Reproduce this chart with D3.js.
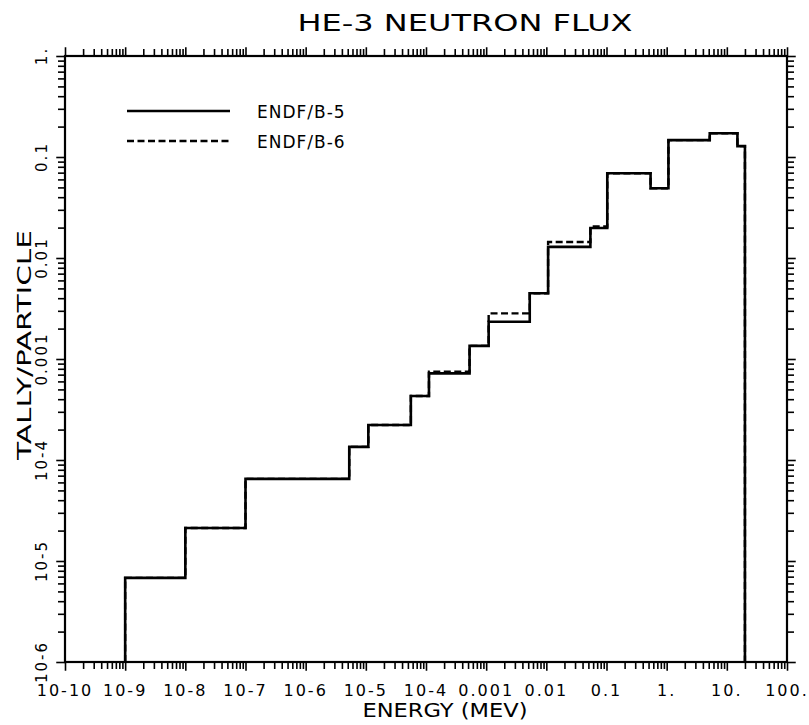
<!DOCTYPE html>
<html>
<head>
<meta charset="utf-8">
<script src="https://cdn.jsdelivr.net/npm/d3@7"></script>
<style>
html,body{margin:0;padding:0;background:#fff;}
svg{display:block;}
text{font-family:"DejaVu Sans",sans-serif;fill:#000;}
</style>
</head>
<body>
<svg id="chart" width="809" height="725"></svg>
<script>
// ---- data ----
const energyEdges = [1e-9, 1e-8, 1e-7, 5.3e-6, 1.1e-5, 5.6e-5, 1.12e-4, 5.3e-4, 1.1e-3, 5.3e-3, 1.07e-2, 5.4e-2, 1.03e-1, 5.4e-1, 1.07, 5.2, 15, 20];
const endfB5 = [6.8e-6, 2.12e-5, 6.5e-5, 1.35e-4, 2.22e-4, 4.3e-4, 7.2e-4, 1.35e-3, 2.34e-3, 4.47e-3, 1.29e-2, 1.98e-2, 6.9e-2, 4.9e-2, 1.47e-1, 1.72e-1, 1.28e-1];
const endfB6 = [6.8e-6, 2.12e-5, 6.5e-5, 1.35e-4, 2.22e-4, 4.3e-4, 7.5e-4, 1.35e-3, 2.83e-3, 4.47e-3, 1.44e-2, 2.05e-2, 6.9e-2, 4.9e-2, 1.47e-1, 1.72e-1, 1.28e-1];
const xTickValues = [1e-10,1e-9,1e-8,1e-7,1e-6,1e-5,1e-4,1e-3,1e-2,1e-1,1,10,100];
const xTickLabels = ["10-10","10-9","10-8","10-7","10-6","10-5","10-4","0.001","0.01","0.1","1.","10.","100."];
const yTickValues = [1e-6,1e-5,1e-4,1e-3,1e-2,1e-1,1];
const yTickLabels = ["10-6","10-5","10-4","0.001","0.01","0.1","1."];
const seriesNames = ["ENDF/B-5","ENDF/B-6"];
const titleText = "HE-3 NEUTRON FLUX";
const xTitle = "ENERGY (MEV)";
const yTitle = "TALLY/PARTICLE";

// ---- layout ----
const L = 65, R = 787, T = 56, B = 662;
const svg = d3.select("#chart");
const x = d3.scaleLog().domain([1e-10, 100]).range([L, R]);
const y = d3.scaleLog().domain([1e-6, 1]).range([B, T]);

function minorTicks(lo, hi){
  const out=[];
  for(let k=lo;k<hi;k++) for(let m=1;m<=9;m++) out.push(m*Math.pow(10,k));
  out.push(Math.pow(10,hi));
  return out;
}
const xt = minorTicks(-10, 2);
const yt = minorTicks(-6, 0);
const isMajor = v => Math.abs(Math.log10(v) - Math.round(Math.log10(v))) < 1e-9;

// axes with outward ticks
const axB = d3.axisBottom(x).tickValues(xt).tickSize(7).tickFormat("");
const axT = d3.axisTop(x).tickValues(xt).tickSize(7).tickFormat("");
const axL = d3.axisLeft(y).tickValues(yt).tickSize(7).tickFormat("");
const axR = d3.axisRight(y).tickValues(yt).tickSize(7).tickFormat("");
function styleAxis(g){
  g.select(".domain").remove();
  g.selectAll(".tick line").attr("stroke","#000").attr("stroke-width",1.6);
}
svg.append("g").attr("transform",`translate(0,${B})`).call(axB).call(styleAxis);
svg.append("g").attr("transform",`translate(0,${T})`).call(axT).call(styleAxis);
svg.append("g").attr("transform",`translate(${L},0)`).call(axL).call(styleAxis);
svg.append("g").attr("transform",`translate(${R},0)`).call(axR).call(styleAxis);
svg.selectAll(".tick line").filter(d=>isMajor(d)).attr("y2",function(){return d3.select(this).attr("y2")?+d3.select(this).attr("y2")*1.25:null;}).attr("x2",function(){return d3.select(this).attr("x2")?+d3.select(this).attr("x2")*1.25:null;});

svg.append("rect").attr("x",L).attr("y",T).attr("width",R-L).attr("height",B-T)
  .attr("fill","none").attr("stroke","#000").attr("stroke-width",2.2);

// tick labels
svg.append("g").selectAll("text").data(xTickValues).join("text")
  .attr("x",d=>x(d)).attr("y",B+34).attr("text-anchor","middle")
  .attr("font-size",16).attr("letter-spacing",2)
  .text((d,i)=>xTickLabels[i]);
svg.append("g").selectAll("text").data(yTickValues).join("text")
  .attr("transform",d=>`translate(${L-18},${y(d)}) rotate(-90)`)
  .attr("text-anchor","middle")
  .attr("font-size",15).attr("letter-spacing",2)
  .text((d,i)=>yTickLabels[i]);

// titles
svg.append("text").attr("x",465).attr("y",31).attr("text-anchor","middle")
  .attr("font-size",23).attr("textLength",335).attr("lengthAdjust","spacingAndGlyphs").text(titleText);
svg.append("text").attr("x",445).attr("y",717).attr("text-anchor","middle")
  .attr("font-size",19).attr("textLength",165).attr("lengthAdjust","spacingAndGlyphs").text(xTitle);
svg.append("text").attr("transform",`translate(31,345) rotate(-90)`).attr("text-anchor","middle")
  .attr("font-size",20).attr("textLength",230).attr("lengthAdjust","spacingAndGlyphs").text(yTitle);

// step lines
function stepPoints(vals){
  const pts=[[energyEdges[0],1e-6]];
  vals.forEach((v,i)=>pts.push([energyEdges[i],v]));
  pts.push([energyEdges[energyEdges.length-1],vals[vals.length-1]]);
  pts.push([energyEdges[energyEdges.length-1],1e-6]);
  return pts;
}
const line = d3.line().x(d=>x(d[0])).y(d=>y(d[1])).curve(d3.curveStepAfter);
svg.append("path").attr("d",line(stepPoints(endfB5))).attr("fill","none")
  .attr("stroke","#000").attr("stroke-width",2.6).attr("stroke-linejoin","miter");
svg.append("path").attr("d",line(stepPoints(endfB6))).attr("fill","none")
  .attr("stroke","#000").attr("stroke-width",2.4).attr("stroke-dasharray","7,3.5");

// legend
const leg = svg.append("g");
[0,1].forEach(i=>{
  const ly = 111 + i*30;
  leg.append("line").attr("x1",127).attr("x2",230).attr("y1",ly).attr("y2",ly)
    .attr("stroke","#000").attr("stroke-width",2.4)
    .attr("stroke-dasharray", i===1 ? "7,3.5" : null);
  leg.append("text").attr("x",257).attr("y",ly+6.5).attr("font-size",17).attr("letter-spacing",1)
    .text(seriesNames[i]);
});
</script>
</body>
</html>
